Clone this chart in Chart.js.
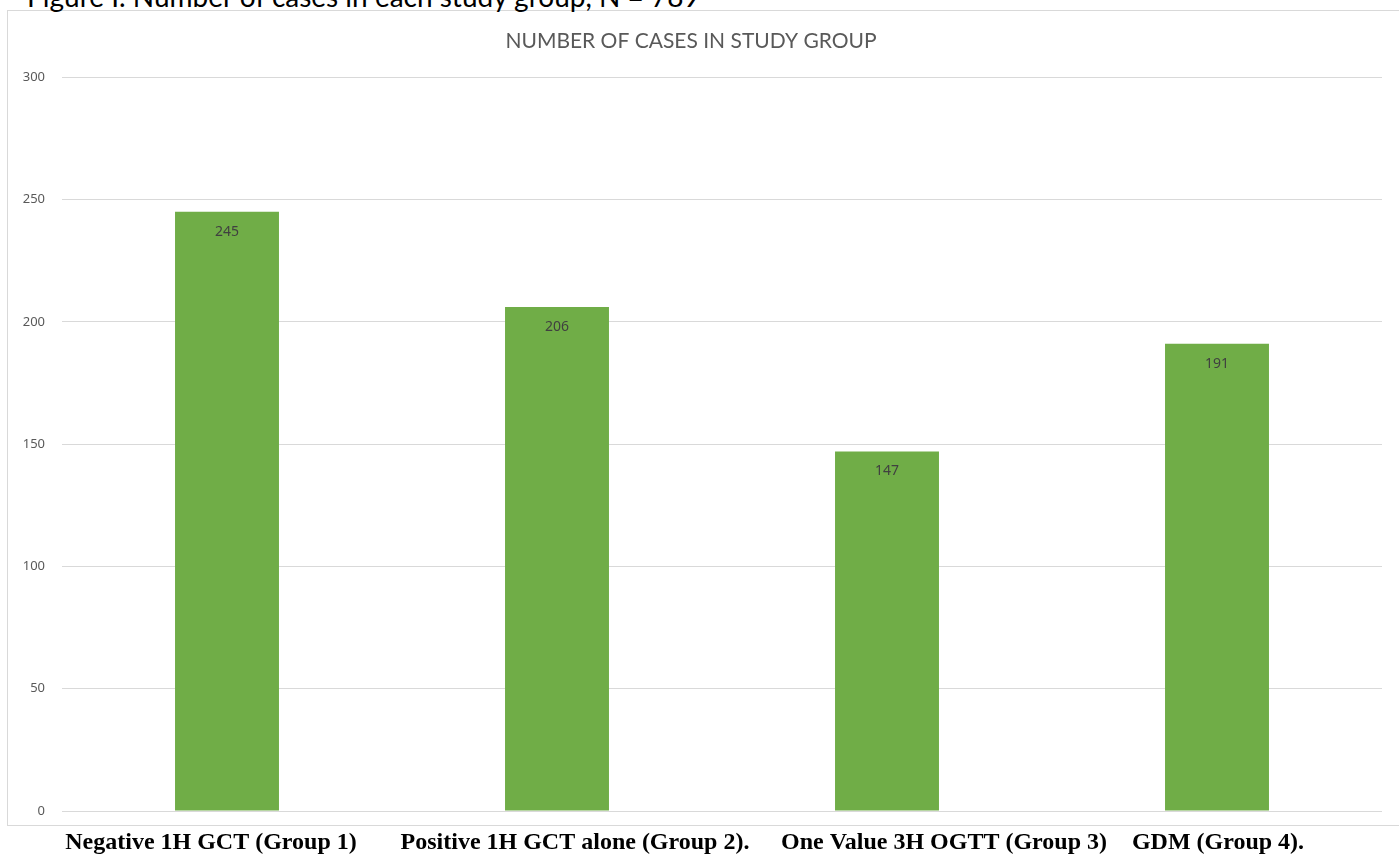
<!DOCTYPE html>
<html>
<head>
<meta charset="utf-8">
<script src="https://cdn.jsdelivr.net/npm/chart.js@4.4.1/dist/chart.umd.min.js"></script>
<style>
    html, body { margin: 0; padding: 0; background: #ffffff; overflow: hidden; }
    #wrap { position: relative; width: 1399px; height: 856px; }
    #caption {
        position: absolute; left: 27px; top: -18px;
        font-family: Lato, sans-serif; font-size: 28px; line-height: 28px;
        color: #000000; white-space: nowrap;
    }
    #frame {
        position: absolute; left: 7px; top: 10px; width: 1400px; height: 816px;
        border: 1px solid #d9d9d9; box-sizing: border-box;
    }
    #chart { position: absolute; left: 0; top: 0; }
</style>
</head>
<body>
<div id="wrap">
    <div id="frame"></div>
    <div id="caption">Figure I. Number of cases in each study group, N = 789</div>
    <canvas id="chart" width="1399" height="856"></canvas>
</div>
<script>
'use strict';

let groups = ['Negative 1H GCT (Group 1)', 'Positive 1H GCT alone (Group 2).', 'One Value 3H OGTT (Group 3)', 'GDM (Group 4).'];
let cases = [245, 206, 147, 191];
let yTicks = [0, 50, 100, 150, 200, 250, 300];

// the category names sit in a typed line under the chart, not exactly under each bar
let labelShift = [-16, 18, 57, 1];

const canvasEl = document.getElementById('chart');

// values written just under the top of each bar
let valueLabels = {
    id: 'valueLabels',
    afterDatasetsDraw(chart) {
        let ctx = chart.ctx;
        let meta = chart.getDatasetMeta(0);
        ctx.save();
        ctx.font = '14px "Noto Sans", sans-serif';
        ctx.fillStyle = '#404040';
        ctx.textAlign = 'center';
        ctx.textBaseline = 'middle';
        meta.data.forEach((bar, i) => {
            ctx.fillText(String(cases[i]), bar.x, bar.y + 20);
        });
        ctx.restore();
    }
};

// category names under the x axis
let groupLabels = {
    id: 'groupLabels',
    afterDraw(chart) {
        let ctx = chart.ctx;
        let xScale = chart.scales.x;
        ctx.save();
        ctx.font = 'bold 24px "Liberation Serif", serif';
        ctx.fillStyle = '#000000';
        ctx.textAlign = 'center';
        ctx.textBaseline = 'middle';
        groups.forEach((name, i) => {
            ctx.fillText(name, xScale.getPixelForTick(i) + labelShift[i], xScale.top + 32);
        });
        ctx.restore();
    }
};

new Chart(canvasEl, {
    type: 'bar',
    data: {
        labels: groups,
        datasets: [{
            label: 'Cases',
            data: cases,
            backgroundColor: '#70ad47',
            borderWidth: 0,
            categoryPercentage: 1,
            barPercentage: 0.315
        }]
    },
    options: {
        responsive: false,
        animation: false,
        layout: {
            padding: { left: 0, right: 17, top: 0, bottom: 3 }
        },
        plugins: {
            legend: { display: false },
            tooltip: { enabled: false },
            title: {
                display: true,
                text: 'NUMBER OF CASES IN STUDY GROUP',
                color: '#595959',
                font: { family: 'Lato', size: 21, weight: 'normal', lineHeight: 1.2 },
                padding: { top: 29, bottom: 23 }
            }
        },
        scales: {
            x: {
                afterFit(scale) { scale.height = 42; },
                grid: { display: false, drawTicks: false },
                border: { display: false },
                ticks: { display: false }
            },
            y: {
                min: 0,
                max: 300,
                afterFit(scale) { scale.width = 62; },
                afterBuildTicks(scale) { scale.ticks = yTicks.map(v => ({ value: v })); },
                grid: { color: '#d9d9d9', lineWidth: 1, drawTicks: false },
                border: { display: false },
                ticks: {
                    color: '#595959',
                    font: { family: '"Noto Sans", sans-serif', size: 13 },
                    padding: 17
                }
            }
        }
    },
    plugins: [valueLabels, groupLabels]
});
</script>
</body>
</html>
